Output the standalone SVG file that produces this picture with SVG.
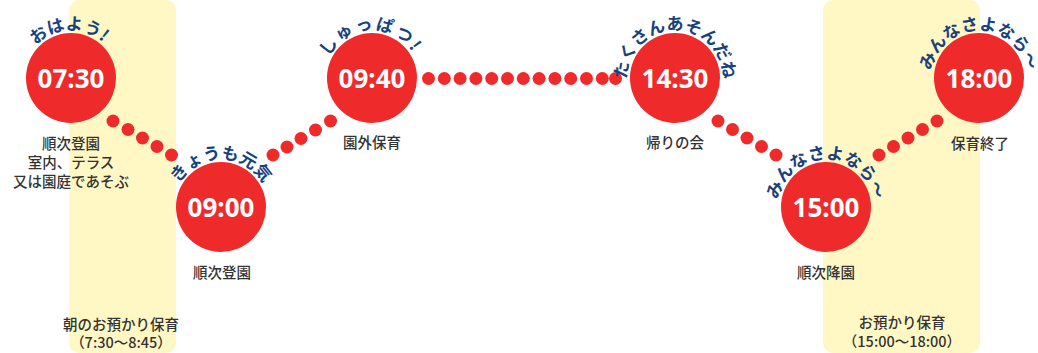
<svg xmlns="http://www.w3.org/2000/svg" width="1038" height="353" viewBox="0 0 1038 353">
<style>
.band{fill:#fff8c5}
.node{fill:#ee2a2b}
.dot{fill:#ee2a2b}
.time{font-family:"Noto Sans","Liberation Sans",sans-serif;font-weight:700;font-size:26px;fill:#fff;text-anchor:middle}
.arc{font-family:"Noto Sans CJK JP",sans-serif;font-weight:700;font-size:17px;fill:#17417e;text-anchor:middle}
.lbl{font-family:"Noto Sans CJK JP",sans-serif;font-weight:500;font-size:14.5px;fill:#333;text-anchor:middle}
</style>
<defs>
<path id="a1" d="M37.06 111.94 A48 48 0 1 1 104.94 111.94"/>
<path id="a2" d="M187.06 240.94 A48 48 0 1 1 254.94 240.94"/>
<path id="a3" d="M338.06 111.94 A48 48 0 1 1 405.94 111.94"/>
<path id="a4" d="M641.06 111.94 A48 48 0 1 1 708.94 111.94"/>
<path id="a5" d="M792.06 240.94 A48 48 0 1 1 859.94 240.94"/>
<path id="a6" d="M945.06 111.94 A48 48 0 1 1 1012.94 111.94"/>
</defs>
<g id="bands">
<rect class="band" x="69" y="0" width="107" height="353" rx="10"/>
<rect class="band" x="823" y="0" width="157" height="353" rx="10"/>
<text class="lbl" x="121" y="330">朝のお預かり保育</text>
<text class="lbl" x="121" y="348">（7:30〜8:45）</text>
<text class="lbl" x="902" y="328">お預かり保育</text>
<text class="lbl" x="902" y="347">（15:00〜18:00）</text>
</g>
<g id="connectors">
<circle class="dot" cx="113" cy="121" r="6.5"/>
<circle class="dot" cx="128" cy="129.5" r="6.5"/>
<circle class="dot" cx="142.5" cy="138" r="6.5"/>
<circle class="dot" cx="157" cy="146.5" r="6.5"/>
<circle class="dot" cx="171.5" cy="155" r="6.5"/>
<circle class="dot" cx="273" cy="155" r="6.5"/>
<circle class="dot" cx="287" cy="147" r="6.5"/>
<circle class="dot" cx="301" cy="138.5" r="6.5"/>
<circle class="dot" cx="315.5" cy="130" r="6.5"/>
<circle class="dot" cx="330.5" cy="121" r="6.5"/>
<circle class="dot" cx="428.5" cy="78.5" r="6.5"/>
<circle class="dot" cx="444.3" cy="78.5" r="6.5"/>
<circle class="dot" cx="460.1" cy="78.5" r="6.5"/>
<circle class="dot" cx="475.9" cy="78.5" r="6.5"/>
<circle class="dot" cx="491.7" cy="78.5" r="6.5"/>
<circle class="dot" cx="507.5" cy="78.5" r="6.5"/>
<circle class="dot" cx="523.3" cy="78.5" r="6.5"/>
<circle class="dot" cx="539.1" cy="78.5" r="6.5"/>
<circle class="dot" cx="554.9" cy="78.5" r="6.5"/>
<circle class="dot" cx="570.7" cy="78.5" r="6.5"/>
<circle class="dot" cx="586.5" cy="78.5" r="6.5"/>
<circle class="dot" cx="602.3" cy="78.5" r="6.5"/>
<circle class="dot" cx="615.5" cy="78.5" r="6.5"/>
<circle class="dot" cx="718" cy="121" r="6.5"/>
<circle class="dot" cx="732.5" cy="129.5" r="6.5"/>
<circle class="dot" cx="747" cy="138" r="6.5"/>
<circle class="dot" cx="761.5" cy="146.5" r="6.5"/>
<circle class="dot" cx="776" cy="155" r="6.5"/>
<circle class="dot" cx="879" cy="155" r="6.5"/>
<circle class="dot" cx="893.5" cy="146.5" r="6.5"/>
<circle class="dot" cx="908" cy="138" r="6.5"/>
<circle class="dot" cx="922.5" cy="129.5" r="6.5"/>
<circle class="dot" cx="937" cy="121" r="6.5"/>
</g>
<g id="n0730">
<circle class="node" cx="71" cy="78" r="45"/>
<text class="time" x="71" y="87.5">07:30</text>
<text class="arc"><textPath href="#a1" startOffset="49%">おはよう!</textPath></text>
<text class="lbl" x="71" y="149">順次登園</text>
<text class="lbl" x="71" y="168">室内、テラス</text>
<text class="lbl" x="71" y="187">又は園庭であそぶ</text>
</g>
<g id="n0900">
<circle class="node" cx="221" cy="207" r="45"/>
<text class="time" x="221" y="216.5">09:00</text>
<text class="arc"><textPath href="#a2" startOffset="50%">きょうも元気</textPath></text>
<text class="lbl" x="222" y="278">順次登園</text>
</g>
<g id="n0940">
<circle class="node" cx="372" cy="78" r="45"/>
<text class="time" x="372" y="87.5">09:40</text>
<text class="arc" letter-spacing="2"><textPath href="#a3" startOffset="49%">しゅっぱつ!</textPath></text>
<text class="lbl" x="372" y="148">園外保育</text>
</g>
<g id="n1430">
<circle class="node" cx="675" cy="78" r="45"/>
<text class="time" x="675" y="87.5">14:30</text>
<text class="arc"><textPath href="#a4" startOffset="50%">たくさんあそんだね</textPath></text>
<text class="lbl" x="675" y="148">帰りの会</text>
</g>
<g id="n1500">
<circle class="node" cx="826" cy="207" r="45"/>
<text class="time" x="826" y="216.5">15:00</text>
<text class="arc"><textPath href="#a5" startOffset="50%">みんなさよなら〜</textPath></text>
<text class="lbl" x="826" y="278">順次降園</text>
</g>
<g id="n1800">
<circle class="node" cx="979" cy="78" r="45"/>
<text class="time" x="979" y="87.5">18:00</text>
<text class="arc"><textPath href="#a6" startOffset="50%">みんなさよなら〜</textPath></text>
<text class="lbl" x="980" y="149">保育終了</text>
</g>
</svg>
